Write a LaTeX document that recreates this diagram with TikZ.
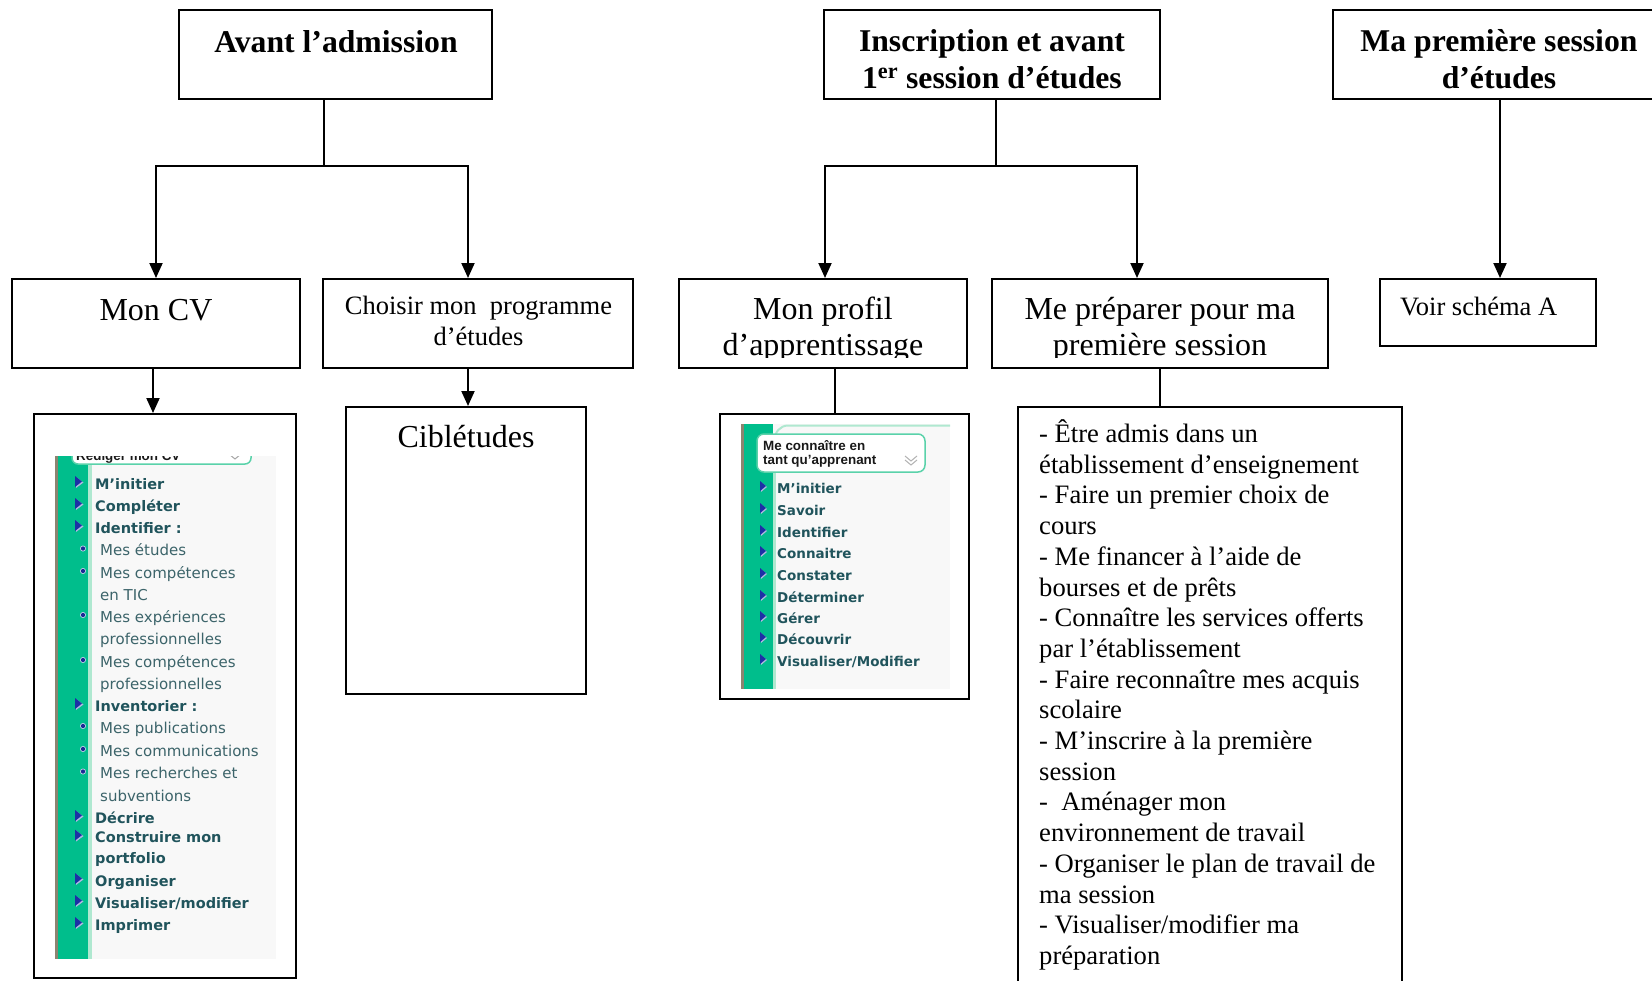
\documentclass[tikz,border=0pt]{standalone}
\usepackage{fontspec}
\setmainfont{Liberation Serif}
\newfontfamily\vsans{DejaVu Sans}
\newfontfamily\asans{Liberation Sans}
\usetikzlibrary{arrows.meta}
\definecolor{uigreen}{RGB}{0,190,140}
\definecolor{uilight}{RGB}{175,232,208}
\definecolor{uibg}{RGB}{248,248,248}
\definecolor{uiedge}{RGB}{140,132,112}
\definecolor{uitext}{RGB}{32,84,92}
\definecolor{uisub}{RGB}{60,100,106}
\definecolor{uitri}{RGB}{28,48,165}
\definecolor{uiborder}{RGB}{90,210,170}
\begin{document}
\begin{tikzpicture}[x=1pt,y=-1pt,
  box/.style={draw=black, line width=2pt, fill=white, inner sep=0pt},
  link/.style={line width=2pt},
  arr/.style={line width=2pt, -{Triangle[width=13pt,length=15pt]}},
  hb/.style={font=\fontsize{31.7}{36}\selectfont\bfseries, inner sep=0pt, anchor=base},
  rt/.style={font=\fontsize{32}{36}\selectfont, inner sep=0pt, anchor=base},
  rs/.style={font=\fontsize{26.5}{31}\selectfont, inner sep=0pt, anchor=base},
  lt/.style={font=\fontsize{26.6}{30.7}\selectfont, inner sep=0pt, anchor=base west},
  uib/.style={font=\vsans\bfseries\fontsize{14.5}{16}\selectfont, text=uitext, inner sep=0pt, anchor=base west},
  uis/.style={font=\vsans\fontsize{15}{16}\selectfont, text=uisub, inner sep=0pt, anchor=base west},
  uib2/.style={font=\vsans\bfseries\fontsize{13.5}{16}\selectfont, text=uitext, inner sep=0pt, anchor=base west},
  uih/.style={font=\asans\bfseries\fontsize{13.4}{15}\selectfont, text=black!90, inner sep=0pt, anchor=base west}
]
\useasboundingbox (0,0) rectangle (1652,980);

% ---- boxes ----
\node[box, minimum width=313pt, minimum height=89pt] (avant) at (335.5,54.5) {};
\node[box, minimum width=336pt, minimum height=89pt] (inscr) at (992,54.5) {};
\node[box, minimum width=367pt, minimum height=89pt] (mapremiere) at (1516.5,54.5) {};
\node[box, minimum width=288pt, minimum height=89pt] (moncv) at (156,323.5) {};
\node[box, minimum width=310pt, minimum height=89pt] (choisir) at (478,323.5) {};
\node[box, minimum width=288pt, minimum height=89pt] (monprofil) at (823,323.5) {};
\node[box, minimum width=336pt, minimum height=89pt] (prep) at (1160,323.5) {};
\node[box, minimum width=216pt, minimum height=67pt] (voir) at (1488,312.5) {};
\node[box, minimum width=262pt, minimum height=564pt] (cvshot) at (165,696) {};
\node[box, minimum width=240pt, minimum height=287pt] (cible) at (466,550.5) {};
\node[box, minimum width=249pt, minimum height=285pt] (profshot) at (844.5,556.5) {};
\node[box, minimum width=384pt, minimum height=600pt] (list) at (1210,707) {};

% ---- box texts ----
\node[hb] (tavant) at (336,52.7) {Avant l’admission};
\node[hb] (tins1) at (992,51) {Inscription et avant};
\node[hb] (tins2) at (992,88) {1\textsuperscript{er} session d’études};
\node[hb] (tma1) at (1499,51) {Ma première session};
\node[hb] (tma2) at (1499,88) {d’études};
\node[rt] (tcv) at (156,320.7) {Mon CV};
\node[rs] (tch1) at (478.5,314) {Choisir mon\ \ programme};
\node[rs] (tch2) at (478.5,345) {d’études};
\begin{scope}
  \clip (679,279) rectangle (967,357.5);
  \node[rt] (tpr1) at (823,319) {Mon profil};
  \node[rt] (tpr2) at (823,355) {d’apprentissage};
\end{scope}
\begin{scope}
  \clip (992,279) rectangle (1328,357.5);
  \node[rt] (tpp1) at (1160,319) {Me préparer pour ma};
  \node[rt] (tpp2) at (1160,355) {première session};
\end{scope}
\node[rs, anchor=base west] (tvoir) at (1400,315) {Voir schéma A};
\node[rt] (tcible) at (466,447) {Ciblétudes};

\foreach \t [count=\i] in {- Être admis dans un, établissement d’enseignement, - Faire un premier choix de, cours, - Me financer à l’aide de, bourses et de prêts, - Connaître les services offerts, par l’établissement, - Faire reconnaître mes acquis, scolaire, - M’inscrire à la première, session, -\ \ Aménager mon, environnement de travail, - Organiser le plan de travail de, ma session, {- Visualiser/modifier ma}, préparation}
  \node[lt] (li\i) at (1039,{442.5+(\i-1)*30.7}) {\t};

% ---- connectors ----
\coordinate (ja) at (324,166);
\coordinate (xa) at (468,0);
\coordinate (xb) at (153,0);
\draw[link] (avant.south -| ja) -- (ja);
\draw[arr] (ja) -| (moncv.north);
\draw[arr] (ja) -| (choisir.north -| xa);
\draw[arr] (moncv.south -| xb) -- (cvshot.north -| xb);
\draw[arr] (choisir.south -| xa) -- (cible.north -| xa);

\coordinate (jb) at (996,166);
\coordinate (xl) at (825,0);
\coordinate (xr) at (1137,0);
\coordinate (xc) at (835,0);
\coordinate (xd) at (1500,0);
\draw[link] (inscr.south -| jb) -- (jb);
\draw[arr] (jb) -| (monprofil.north -| xl);
\draw[arr] (jb) -| (prep.north -| xr);
\draw[link] (monprofil.south -| xc) -- (profshot.north -| xc);
\draw[link] (prep.south) -- (list.north -| prep.south);
\draw[arr] (mapremiere.south -| xd) -- (voir.north -| xd);

% ---- screenshot: Mon CV ----
\fill[uibg] (55,456) rectangle (276,959);
\fill[uiedge] (55,456) rectangle (58,959);
\fill[uigreen] (58,456) rectangle (88,959);
\fill[uilight] (88,456) rectangle (92,959);
\begin{scope}
  \clip (55,456) rectangle (276,959);
  \draw[uiborder, line width=1.5pt, fill=white, rounded corners=6pt] (72,420) rectangle (251,464);
  \node[uih] (cvhead) at (76,460) {Rédiger mon CV};
  \draw[black!35, line width=1pt] (229,454) -- (235,459) -- (241,454);
\end{scope}
\foreach \yy in {489,511,533,711,823,842.6,886,908,930} {
  \fill[uitri!35] (76,\yy-12) -- (83.5,\yy-6.5) -- (76,\yy-1) -- cycle;
  \fill[uitri] (75,\yy-13) -- (82,\yy-7.5) -- (75,\yy-2) -- cycle;
}
\foreach \yy in {555.5,578,622,667,733,756,778.5} {
  \fill[uitri!25] (83,\yy-7) circle (3pt);
  \fill[uitri!90!black] (83,\yy-7) circle (2.1pt);
}
\foreach \t/\yy [count=\i] in {M’initier/489, Compléter/511, Identifier :/533, Inventorier :/711, Décrire/823, Construire mon/842.6, portfolio/863, Organiser/886, {Visualiser/modifier}/908, Imprimer/930}
  \node[uib] (cvb\i) at (95,\yy) {\t};
\foreach \t/\yy [count=\i] in {Mes études/555.5, Mes compétences/578, en TIC/600, Mes expériences/622, professionnelles/644, Mes compétences/667, professionnelles/689, Mes publications/733, Mes communications/756, Mes recherches et/778.5, subventions/801}
  \node[uis] (cvs\i) at (100,\yy) {\t};

% ---- screenshot: Mon profil ----
\fill[uibg] (741,424) rectangle (950,689);
\fill[uiedge] (741,424) rectangle (744,689);
\fill[uigreen] (744,424) rectangle (773,689);
\fill[uilight] (773,438) rectangle (776,689);
\draw[uilight, line width=2pt] (774.5,440) to[out=90,in=180] (788,425.5) -- (950,425.5);
\draw[uiborder, line width=1.5pt, fill=white, rounded corners=7pt] (757,434) rectangle (925,472);
\node[uih] (ph1) at (763,450) {Me connaître en};
\node[uih] (ph2) at (763,464) {tant qu’apprenant};
\draw[black!30, line width=1pt] (905,456) -- (911,461) -- (917,456);
\draw[black!30, line width=1pt] (905,460) -- (911,465) -- (917,460);
\foreach \t/\yy [count=\i] in {M’initier/493, Savoir/515, Identifier/537, Connaitre/558, Constater/580, Déterminer/602, Gérer/623, Découvrir/644, {Visualiser/Modifier}/666} {
  \fill[uitri!35] (761,\yy-11) -- (767,\yy-6) -- (761,\yy-1) -- cycle;
  \fill[uitri] (760,\yy-12) -- (766,\yy-7) -- (760,\yy-2) -- cycle;
  \node[uib2] (pb\i) at (777,\yy) {\t};
}
\end{tikzpicture}
\end{document}
